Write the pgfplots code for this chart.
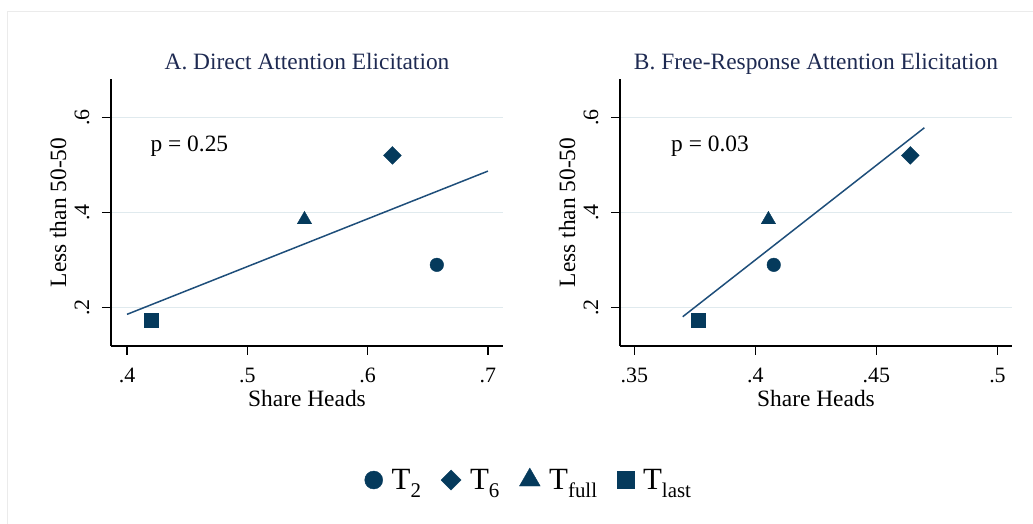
\documentclass[border=0pt]{standalone}
\usepackage{pgfplots}
\pgfplotsset{compat=1.18}
\usepackage{fontspec}
\setmainfont{Liberation Serif}
\definecolor{mk}{RGB}{5,58,92}
\definecolor{ln}{RGB}{30,78,122}
\definecolor{ttl}{RGB}{30,42,82}
\definecolor{grd}{RGB}{224,234,238}
\newcommand{\sub}[1]{\raisebox{-8.5bp}{\fontsize{21}{24}\selectfont #1}}
\pgfplotsset{
  stataaxis/.style={
    scale only axis, width=392bp, height=267bp, anchor=south west,
    axis x line*=bottom, axis y line*=left,
    axis line style={black, line width=1.1bp, -},
    tick align=outside, major tick length=9bp,
    tick style={black, line width=1.1bp},
    ytick={0.2,0.4,0.6}, yticklabels={.2,.4,.6},
    ymin=0.1195, ymax=0.6805,
    ymajorgrids, grid style={grd, line width=1.3bp},
    /pgf/number format/assume math mode=true,
    ticklabel style={font=\fontsize{22}{26}\selectfont},
    xticklabel style={anchor=center, yshift=-20bp},
    yticklabel style={rotate=90, anchor=center, yshift=20bp},
    label style={font=\fontsize{23.5}{28}\selectfont},
    xlabel style={at={(axis description cs:0.5,0)}, anchor=center, yshift=-52bp},
    ylabel style={at={(axis description cs:-0.1352,0.5)}, anchor=center},
    title style={at={(axis description cs:0.5,1)}, anchor=base, yshift=4bp, font=\fontsize{23.5}{28}\selectfont, text=ttl},
    clip=false,
  }
}
\begin{document}
\begin{tikzpicture}
\path[use as bounding box] (0,0) rectangle (1033bp,524bp);
\draw[black!8, line width=0.8bp] (7bp,0) -- (7bp,513bp) -- (1033bp,513bp);
\begin{axis}[stataaxis, at={(111bp,178bp)},
  xmin=0.3867, xmax=0.7125,
  xtick={0.4,0.5,0.6,0.7}, xticklabels={.4,.5,.6,.7},
  xlabel={Share Heads}, ylabel={Less than 50-50},
  title={A. Direct Attention Elicitation},
  legend columns=4,
  legend style={at={(1.066,-0.502)}, anchor=center, draw=none, fill=none,
    font=\fontsize{31}{36}\selectfont,
    /tikz/every odd column/.append style={column sep=7bp},
    /tikz/every even column/.append style={column sep=18bp}},
  legend cell align=left,
]
\addplot[ln, line width=1.5bp, forget plot] coordinates {(0.4,0.186) (0.7,0.487)};
\addplot[only marks, mark=*, mark size=6.8bp, mk, forget plot] coordinates {(0.6575,0.290)};
\addplot[only marks, mark=square*, mark size=6.3bp, mark options={rotate=45}, mk, forget plot] coordinates {(0.6206,0.520)};
\addplot[only marks, mark=triangle*, mark size=8.3bp, mk, forget plot] coordinates {(0.5475,0.385)};
\addplot[only marks, mark=square*, mark size=6.7bp, mk, forget plot] coordinates {(0.420,0.174)};
\node[anchor=base west, font=\fontsize{23.5}{28}\selectfont] at (axis cs:0.4167,0.528) {p = 0.25};
\addlegendimage{only marks, mark=*, mark size=9bp, mk}
\addlegendentry{T\sub{2}}
\addlegendimage{only marks, mark=square*, mark size=7.1bp, mark options={rotate=45}, mk}
\addlegendentry{T\sub{6}}
\addlegendimage{only marks, mark=triangle*, mark size=12bp, mk}
\addlegendentry{T\sub{full}}
\addlegendimage{only marks, mark=square*, mark size=8.5bp, mk}
\addlegendentry{T\sub{last}}
\end{axis}
\begin{axis}[stataaxis, at={(620bp,178bp)},
  xmin=0.3441, xmax=0.506,
  xtick={0.35,0.4,0.45,0.5}, xticklabels={.35,.4,.45,.5},
  xlabel={Share Heads}, ylabel={Less than 50-50},
  title={B. Free-Response Attention Elicitation},
]
\addplot[ln, line width=1.5bp] coordinates {(0.370,0.181) (0.4698,0.578)};
\addplot[only marks, mark=*, mark size=6.8bp, mk] coordinates {(0.4076,0.290)};
\addplot[only marks, mark=square*, mark size=6.3bp, mark options={rotate=45}, mk] coordinates {(0.464,0.520)};
\addplot[only marks, mark=triangle*, mark size=8.3bp, mk] coordinates {(0.4054,0.385)};
\addplot[only marks, mark=square*, mark size=6.7bp, mk] coordinates {(0.3764,0.174)};
\node[anchor=base west, font=\fontsize{23.5}{28}\selectfont] at (axis cs:0.3638,0.528) {p = 0.03};
\end{axis}
\end{tikzpicture}
\end{document}
